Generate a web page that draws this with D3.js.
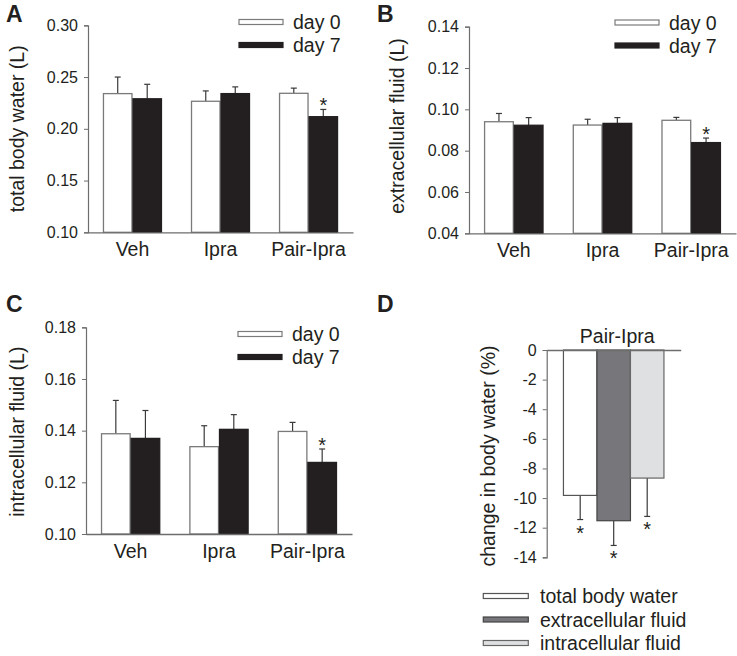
<!DOCTYPE html>
<html>
<head>
<meta charset="utf-8">
<script src="https://cdn.jsdelivr.net/npm/d3@7"></script>
<style>
  html, body { margin: 0; padding: 0; background: #fff; }
  svg text { font-family: "Liberation Sans", Arial, Helvetica, sans-serif; fill: #231f20; }
</style>
</head>
<body>
<svg id="chart" width="737" height="656"></svg>
<script>
// ---------- DATA ----------
const categories = ["Veh", "Ipra", "Pair-Ipra"];
const seriesNames = ["day 0", "day 7"];

const tbwDay0 = [0.234, 0.2266, 0.2343];
const tbwDay0Err = [0.016, 0.010, 0.005];
const tbwDay7 = [0.229, 0.234, 0.2117];
const tbwDay7Err = [0.014, 0.0065, 0.007];

const ecfDay0 = [0.094, 0.0924, 0.0947];
const ecfDay0Err = [0.004, 0.0028, 0.0014];
const ecfDay7 = [0.0923, 0.0932, 0.0839];
const ecfDay7Err = [0.0037, 0.0028, 0.0022];

const icfDay0 = [0.1388, 0.1338, 0.1397];
const icfDay0Err = [0.0129, 0.0081, 0.0035];
const icfDay7 = [0.137, 0.1405, 0.1277];
const icfDay7Err = [0.0108, 0.0057, 0.0052];

const day7Significant = [false, false, true];

const tbwTicks = [0.10, 0.15, 0.20, 0.25, 0.30];
const ecfTicks = [0.04, 0.06, 0.08, 0.10, 0.12, 0.14];
const icfTicks = [0.10, 0.12, 0.14, 0.16, 0.18];

const changeCategories = ["total body water", "extracellular fluid", "intracellular fluid"];
const changeValues = [-9.82, -11.53, -8.65];
const changeErr = [1.63, 1.67, 2.59];
const changeSignificant = [true, true, true];
const changeTicks = [0, -2, -4, -6, -8, -10, -12, -14];
const changeTitle = "Pair-Ipra";

// ---------- STYLE ----------
const INK = "#231f20";
const AXIS = "#6d6d6d";
const seriesFill = ["#ffffff", INK];
const seriesStroke = ["#7a7a7a", INK];
const changeFill = ["#ffffff", "#77777b", "#dfe0e2"];
const changeStroke = ["#555555", "#444444", "#666666"];
const TICK_FS = 16;
const BIG_FS = 19.5;

const svg = d3.select("#chart");

function panelLetter(txt, x, y) {
  svg.append("text").attr("x", x).attr("y", y)
    .attr("font-size", 23).attr("font-weight", "bold").text(txt);
}

function groupedPanel(opts) {
  const g = svg.append("g");
  const x = d3.scaleBand().domain(categories).range(opts.xRange)
    .paddingInner(0.33).paddingOuter(0.17);
  const xs = d3.scaleBand().domain(seriesNames).range([0, x.bandwidth()]).padding(0);
  const y = d3.scaleLinear().domain(opts.domain).range(opts.yRange);

  const rows = [];
  categories.forEach((c, i) => {
    rows.push({ c, s: seriesNames[0], v: opts.d0[i], e: opts.e0[i], k: 0, sig: false });
    rows.push({ c, s: seriesNames[1], v: opts.d7[i], e: opts.e7[i], k: 1, sig: day7Significant[i] });
  });

  // error bars
  const cap = 3;
  rows.forEach(r => {
    const cx = x(r.c) + xs(r.s) + xs.bandwidth() / 2;
    g.append("line").attr("x1", cx).attr("x2", cx)
      .attr("y1", y(r.v)).attr("y2", y(r.v + r.e))
      .attr("stroke", "#3a3a3a").attr("stroke-width", 1.2);
    g.append("line").attr("x1", cx - cap).attr("x2", cx + cap)
      .attr("y1", y(r.v + r.e)).attr("y2", y(r.v + r.e))
      .attr("stroke", "#3a3a3a").attr("stroke-width", 1.2);
    if (r.sig) {
      g.append("text").attr("x", cx).attr("y", y(r.v + r.e) + 3)
        .attr("text-anchor", "middle").attr("font-size", 20).text("*");
    }
  });

  // bars
  g.selectAll("rect.bar").data(rows).join("rect").attr("class", "bar")
    .attr("x", d => x(d.c) + xs(d.s) + 0.5)
    .attr("width", xs.bandwidth() - 1)
    .attr("y", d => y(d.v))
    .attr("height", d => y(opts.domain[0]) - y(d.v))
    .attr("fill", d => seriesFill[d.k])
    .attr("stroke", d => seriesStroke[d.k])
    .attr("stroke-width", 1.3);

  // y axis
  const yAxis = d3.axisLeft(y).tickValues(opts.ticks).tickFormat(d3.format(".2f"))
    .tickSize(4).tickPadding(6);
  const ya = g.append("g").attr("transform", `translate(${opts.xRange[0]},0)`).call(yAxis);
  ya.select(".domain").attr("stroke", AXIS).attr("stroke-width", 1.2);
  ya.selectAll(".tick line").attr("stroke", AXIS);
  ya.selectAll(".tick text").attr("font-size", TICK_FS)
    .attr("font-family", "'Liberation Sans', Arial, sans-serif").attr("fill", INK);

  // x axis
  const xAxis = d3.axisBottom(x).tickSize(0).tickPadding(10);
  const xa = g.append("g").attr("transform", `translate(0,${opts.yRange[0]})`).call(xAxis);
  xa.select(".domain").attr("stroke", AXIS).attr("stroke-width", 1.3);
  xa.selectAll(".tick text").attr("font-size", BIG_FS)
    .attr("font-family", "'Liberation Sans', Arial, sans-serif").attr("fill", INK);

  // y label
  const yMid = (opts.yRange[0] + opts.yRange[1]) / 2;
  g.append("text").attr("transform", `translate(${opts.labelX},${yMid + opts.labelShift}) rotate(-90)`)
    .attr("text-anchor", "middle").attr("font-size", BIG_FS).text(opts.label);

  // legend
  seriesNames.forEach((s, i) => {
    const ly = opts.legendY + i * 23;
    g.append("rect").attr("x", opts.legendX).attr("y", ly - 2.5)
      .attr("width", 44).attr("height", 5)
      .attr("fill", seriesFill[i]).attr("stroke", seriesStroke[i]).attr("stroke-width", 1.2);
    g.append("text").attr("x", opts.legendX + 54).attr("y", ly + 7)
      .attr("font-size", BIG_FS).text(s);
  });
}

panelLetter("A", 6, 22);
groupedPanel({
  xRange: [88, 353], yRange: [232.3, 25.3], domain: [0.10, 0.30], ticks: tbwTicks,
  d0: tbwDay0, e0: tbwDay0Err, d7: tbwDay7, e7: tbwDay7Err,
  label: "total body water (L)", labelX: 24, labelShift: 0,
  legendX: 239, legendY: 22
});

panelLetter("B", 377, 22);
groupedPanel({
  xRange: [469, 736], yRange: [233.3, 26.7], domain: [0.04, 0.14], ticks: ecfTicks,
  d0: ecfDay0, e0: ecfDay0Err, d7: ecfDay7, e7: ecfDay7Err,
  label: "extracellular fluid (L)", labelX: 404, labelShift: -4,
  legendX: 615, legendY: 22.5
});

panelLetter("C", 6, 312);
groupedPanel({
  xRange: [86, 352], yRange: [534, 327.3], domain: [0.10, 0.18], ticks: icfTicks,
  d0: icfDay0, e0: icfDay0Err, d7: icfDay7, e7: icfDay7Err,
  label: "intracellular fluid (L)", labelX: 24, labelShift: 1,
  legendX: 238, legendY: 334
});

// ---------- Panel D ----------
panelLetter("D", 377, 312);
(function () {
  const g = svg.append("g");
  const x = d3.scaleBand().domain(changeCategories).range([546.7, 680.7])
    .paddingInner(0).paddingOuter(0.5);
  const y = d3.scaleLinear().domain([-14, 0]).range([557.3, 350]);

  const cap = 3;
  changeCategories.forEach((c, i) => {
    const cx = x(c) + x.bandwidth() / 2;
    const yb = y(changeValues[i] - changeErr[i]);
    g.append("line").attr("x1", cx).attr("x2", cx).attr("y1", y(changeValues[i])).attr("y2", yb)
      .attr("stroke", "#3a3a3a").attr("stroke-width", 1.2);
    g.append("line").attr("x1", cx - cap).attr("x2", cx + cap).attr("y1", yb).attr("y2", yb)
      .attr("stroke", "#3a3a3a").attr("stroke-width", 1.2);
    if (changeSignificant[i]) {
      g.append("text").attr("x", cx).attr("y", yb + 20)
        .attr("text-anchor", "middle").attr("font-size", 20).text("*");
    }
  });

  g.selectAll("rect.bar").data(changeCategories).join("rect").attr("class", "bar")
    .attr("x", d => x(d)).attr("width", x.bandwidth())
    .attr("y", y(0))
    .attr("height", (d, i) => y(changeValues[i]) - y(0))
    .attr("fill", (d, i) => changeFill[i])
    .attr("stroke", (d, i) => changeStroke[i]).attr("stroke-width", 1.2);

  const yAxis = d3.axisLeft(y).tickValues(changeTicks).tickFormat(d => String(d))
    .tickSize(4).tickPadding(6);
  const ya = g.append("g").attr("transform", `translate(546.7,0)`).call(yAxis);
  ya.select(".domain").attr("stroke", AXIS).attr("stroke-width", 1.2);
  ya.selectAll(".tick line").attr("stroke", AXIS);
  ya.selectAll(".tick text").attr("font-size", TICK_FS)
    .attr("font-family", "'Liberation Sans', Arial, sans-serif").attr("fill", INK);

  // zero line
  const xa = g.append("g").attr("transform", `translate(0,${y(0)})`)
    .call(d3.axisTop(x).tickSize(0).tickFormat(""));
  xa.select(".domain").attr("stroke", AXIS).attr("stroke-width", 1.3);

  g.append("text").attr("x", (546.7 + 680.7) / 2 + 3.5).attr("y", 343)
    .attr("text-anchor", "middle").attr("font-size", BIG_FS).text(changeTitle);

  g.append("text").attr("transform", `translate(495,456) rotate(-90)`)
    .attr("text-anchor", "middle").attr("font-size", BIG_FS).text("change in body water (%)");

  changeCategories.forEach((c, i) => {
    const ly = 596 + i * 23.5;
    g.append("rect").attr("x", 483.3).attr("y", ly - 2.5).attr("width", 45).attr("height", 5)
      .attr("fill", changeFill[i]).attr("stroke", changeStroke[i]).attr("stroke-width", 1.2);
    g.append("text").attr("x", 540).attr("y", ly + 7).attr("font-size", BIG_FS).text(c);
  });
})();
</script>
</body>
</html>
